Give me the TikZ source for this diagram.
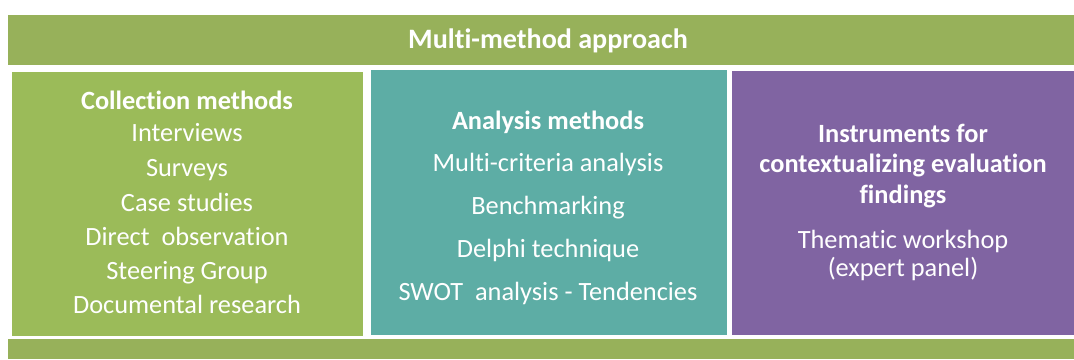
\documentclass[tikz,border=0pt]{standalone}
\usepackage{fontspec}
\setmainfont{Carlito}[Ligatures=NoCommon]
\definecolor{bannergreen}{RGB}{151,177,90}
\definecolor{boxgreen}{RGB}{155,187,89}
\definecolor{boxteal}{RGB}{93,173,165}
\definecolor{boxpurple}{RGB}{128,100,162}
\tikzset{
  line/.style={text=white,text height=10pt,text depth=3pt,inner sep=0pt},
  head/.style={line,font=\fontsize{15}{17}\selectfont\bfseries},
  item/.style={line,font=\fontsize{15}{17}\selectfont},
  panel/.style={draw=white,line width=1pt}
}

\begin{document}
\begin{tikzpicture}[x=0.02cm,y=-0.02cm]
			\useasboundingbox (0,0) rectangle (1074,359);
			% banner and bottom strip
			\fill[bannergreen] (8,15) rectangle (1074,65);
			\fill[bannergreen] (8,339) rectangle (1074,359);
			% three panels
			\filldraw[panel,fill=boxgreen] (11,71) rectangle (364,337);
			\filldraw[panel,fill=boxteal] (370,69) rectangle (728,336);
			\filldraw[panel,fill=boxpurple] (731,70) rectangle (1075,336);
			\node[head,font=\fontsize{16}{18}\selectfont\bfseries] (title) at (548,42) {Multi-method approach};
			% collection
			\node[head] (coll) at (187,103) {Collection methods};
			\node[item] (interv) at (187,135) {Interviews};
			\node[item] (surv) at (187,170) {Surveys};
			\node[item] (cases) at (187,205) {Case studies};
			\node[item] (direct) at (187,239) {Direct\ \ observation};
			\node[item] (steer) at (187,273) {Steering Group};
			\node[item] (docu) at (187,307) {Documental research};
			% analysis
			\node[head] (anal) at (548,123) {Analysis methods};
			\node[item] (multi) at (548,165) {Multi-criteria analysis};
			\node[item] (bench) at (548,208) {Benchmarking};
			\node[item] (delphi) at (548,251) {Delphi technique};
			\node[item] (swot) at (548,294) {SWOT\ \ analysis - Tendencies};
			% instruments
			\node[head] (instr) at (903,136) {Instruments for};
			\node[head] (context) at (903,166) {contextualizing evaluation};
			\node[head] (find) at (903,197) {findings};
			\node[item] (thema) at (903,242) {Thematic workshop};
			\node[item] (panel) at (903,270) {(expert panel)};
		\end{tikzpicture}
\end{document}
